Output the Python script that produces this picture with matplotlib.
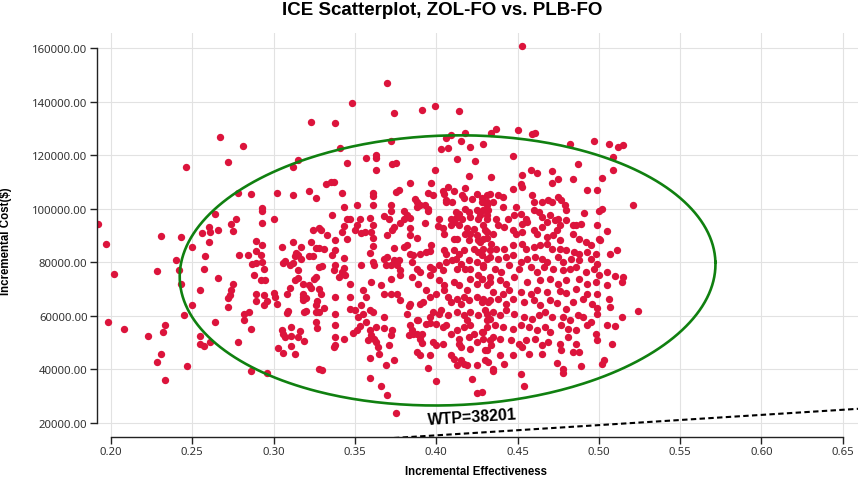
import numpy as np
import matplotlib.pyplot as plt

# (incremental effectiveness x1000, incremental cost /100)
pts_top = [(370,1469),(348,1393),(323,1322),(338,1321),(374,1358),(391,1367),(399,1383),(414,1363),
           (341,1227),(315,1180),(372,1251),(357,1190),(363,1200),(363,1190),(345,1171),(373,1168),
           (375,1170),(406,1265),(409,1275),(418,1283),(415,1254),(403,1221),(407,1226),(421,1229),
           (413,1186),(424,1176),(453,1607),(434,1281),(437,1298),(450,1292),(459,1278),(461,1281),
           (429,1241),(447,1195),(482,1242),(497,1251),(506,1240),(512,1231),(515,1237),(509,1192),
           (487,1168),(246,1157),(267,1267),(281,1233),(272,1175),(312,1155)]

pts_left_hi = [(278,1058),(286,1054),(302,1060),(312,1049),(293,1003),(293,992),(264,979),(277,962),
               (274,942),(293,945),(300,962),(260,932),(261,913),(256,910),(266,920),(275,915),
               (231,899),(243,895),(192,944),(332,1091),(322,1065),(326,1040),(324,919),(329,919),
               (333,900),(328,926)]

pts_left = [(197,868),(202,756),(198,578),(208,550),(223,525),(228,767),(231,458),(228,426),(233,360),
            (232,540),(233,565),(240,809),(242,771),(243,720),(245,601),(247,413),(250,856),(250,638),
            (255,697),(255,525),(255,495),(257,485),(261,500),(257,773),(258,823),(260,877),(264,578),
            (266,739),(272,633),(272,665),(273,678),(274,694),(275,720),(278,500),(279,825),(284,825),
            (282,585),(282,606),(285,614),(286,550),(286,393),(289,878),(293,865),(289,843),(292,828),
            (287,793),(289,796),(293,800),(288,750),(292,732),(295,732),(294,773),(289,680),(289,653),
            (294,641),(296,653),(294,676),(296,387),(300,686),(301,670),(302,643),(305,858),(306,798),
            (307,805),(308,680),(308,611),(309,616),(303,480),(306,462),(305,547),(306,533),(307,522),
            (310,704),(311,487),(311,525),(311,559),(313,455),(312,877),(314,835),(313,823),(315,828),
            (312,798),(310,791),(315,770),(317,811),(313,735),(315,741),(318,680),(318,670),(318,659),
            (320,665),(319,615),(320,618),(316,541),(315,519),(319,504),(317,858),(318,720),(322,713),
            (323,705),(325,736),(326,746),(322,823),(324,823),(323,874),(326,854),(328,854),(328,782),
            (330,786),(326,640),(327,653),(326,576),(327,553),(328,701),(329,681),(326,612),(328,614),
            (328,400),(330,396),(331,848),(331,627)]

pts_low = [(375,238)]

pts_core_ul = [(363,1143),(399,1145),(420,1122),(337,1099),(335,1099),(384,1095),(397,1095),(407,1080),
               (418,1078),(342,1057),(361,1058),(361,1047),(375,1062),(377,1068),(387,1037),(388,1024),
               (395,1059),(404,1064),(405,1056),(411,1067),(416,1052),(417,1041),(425,1056),(422,1034),
               (428,1024),(431,1049),(431,1024),(406,1031),(406,1024),(398,1049),(343,1006),(351,1015),
               (361,1015),(372,1015),(372,990),(380,990),(388,1006),(390,1012),(393,1012),(395,1000),
               (395,990),(410,1024),(412,987),(414,981),(418,1000),(420,987),(425,993),(429,993),
               (432,993),(412,965),(416,962),(421,968),(426,962),(431,975),(336,975),(345,962),
               (347,962),(353,960),(359,966),(368,972),(371,962),(382,975),(380,960),(384,965),
               (378,947),(393,946),(402,962),(401,935),(409,962),(411,950),(409,937),(414,937),
               (429,940),(419,927),(423,922),(431,912),(343,934),(351,937),(361,937),(374,931),
               (373,921),(384,927),(384,903),(388,890),(342,912),(350,919),(354,910),(356,912),
               (360,912),(361,890),(370,900),(404,927),(405,906),(411,888),(413,885),(418,906),
               (421,906),(420,884),(425,900),(426,881),(429,888),(431,890),(345,885),(338,884),
               (338,844),(336,825),(343,815),(359,835),(361,860),(374,854),(380,856),(382,863),
               (384,832),(386,828),(390,832),(394,838),(396,840),(397,865),(405,844),(406,832),
               (411,844),(414,832),(417,846),(423,850),(426,838),(429,850),(433,844),(338,788),
               (337,769),(343,778),(342,763),(344,753),(340,744),(354,788),(361,800),(362,788),
               (368,813),(370,819),(369,788),(374,807),(372,788),(377,807),(376,788),(378,769),
               (378,753),(385,800),(385,744),(388,776),(390,763),(396,782),(396,751),(398,776),
               (402,788),(404,769),(406,800),(410,807),(412,813),(415,794),(413,776),(418,776),
               (420,807),(421,776),(425,800),(429,788),(431,813),(426,751),(428,738),(433,744),
               (347,719),(360,726),(366,716),(372,738),(389,719),(402,732),(405,713),(411,726),
               (414,713),(421,738),(425,719),(431,713)]

pts_core_ur = [(434,1118),(453,1124),(458,1143),(462,1134),(471,1139),(475,1112),(471,1097),(484,1112),
               (502,1114),(509,1145),(493,1071),(499,1071),(447,1072),(452,1093),(453,1081),(433,1056),
               (438,1052),(441,1043),(428,1039),(429,1024),(435,1024),(431,1012),(441,1006),(449,1006),
               (459,1049),(460,1024),(465,1024),(469,1031),(471,1024),(475,1043),(477,1031),(479,1012),
               (480,993),(491,985),(500,990),(502,1000),(521,1015),(427,975),(431,962),(437,962),
               (438,937),(444,962),(448,975),(452,981),(455,962),(453,944),(456,950),(460,993),
               (463,987),(465,968),(470,975),(468,950),(465,931),(473,956),(475,962),(480,956),
               (476,937),(474,919),(484,937),(486,940),(489,944),(499,937),(500,888),(505,915),
               (511,844),(507,832),(430,919),(435,906),(442,931),(447,921),(449,906),(453,912),
               (460,919),(462,906),(468,894),(472,900),(476,881),(484,906),(488,888),(492,875),
               (495,863),(501,881),(427,875),(434,869),(437,850),(442,850),(447,863),(453,869),
               (455,850),(460,856),(464,863),(468,869),(471,850),(476,850),(480,844),(485,838),
               (488,832),(493,838),(498,832),(428,825),(433,819),(438,813),(443,819),(447,825),
               (452,800),(456,813),(461,819),(465,813),(468,800),(475,819),(478,800),(483,813),
               (488,807),(495,813),(499,794),(505,763),(510,748),(514,726),(429,782),(436,776),
               (440,763),(445,788),(451,776),(458,782),(462,763),(466,782),(472,776),(478,769),
               (482,776),(486,782),(492,763),(497,776),(500,751),(428,738),(433,726),(439,732),
               (443,719),(448,744),(456,726),(464,732),(470,738),(475,719),(480,732),(488,738),
               (493,719),(498,726),(505,713),(515,744)]

pts_core_ll = [(338,669),(347,669),(355,697),(357,669),(368,682),(372,682),(376,682),(378,660),
               (384,645),(383,635),(390,645),(392,651),(396,669),(394,694),(400,682),(405,694),
               (407,669),(409,651),(413,663),(415,645),(417,669),(419,694),(420,657),(425,669),
               (429,663),(432,651),(347,626),(350,620),(354,638),(355,607),(359,620),(361,613),
               (338,607),(352,595),(357,576),(368,595),(382,607),(388,585),(389,585),(396,595),
               (398,613),(402,607),(403,620),(407,601),(413,613),(417,601),(419,582),(421,613),
               (426,601),(431,607),(431,582),(338,564),(353,560),(351,545),(349,535),(359,547),
               (363,557),(368,554),(373,545),(372,526),(384,564),(385,545),(388,533),(391,533),
               (394,570),(396,573),(400,570),(404,557),(406,564),(413,545),(417,557),(421,564),
               (423,533),(428,539),(431,557),(338,520),(343,514),(337,483),(360,526),(362,514),
               (363,501),(364,483),(371,491),(383,526),(386,533),(390,514),(391,498),(398,501),
               (400,489),(404,495),(409,533),(414,514),(414,495),(415,483),(420,520),(421,477),
               (425,501),(429,514),(433,508),(338,489),(358,508),(365,458),(359,443),(369,414),
               (374,433),(388,464),(390,452),(396,452),(395,406),(409,452),(411,439),(413,414),
               (415,433),(417,421),(419,414),(422,363),(425,414),(430,433),(431,470),(359,368),
               (366,336),(370,305),(400,357),(425,311)]

pts_core_lr = [(435,688),(441,682),(445,694),(452,688),(458,682),(462,694),(468,688),(476,692),
               (480,684),(486,701),(493,682),(499,682),(506,663),(428,651),(433,657),(438,663),
               (443,645),(447,663),(454,651),(460,657),(464,638),(470,657),(474,647),(480,626),
               (484,651),(490,663),(496,645),(499,630),(507,632),(524,617),(430,620),(435,613),
               (433,588),(439,601),(443,620),(448,607),(454,595),(459,589),(463,601),(467,613),
               (471,595),(478,595),(482,582),(487,601),(490,595),(495,576),(499,607),(505,564),
               (510,560),(514,595),(429,539),(436,564),(441,557),(447,551),(452,564),(457,557),
               (462,545),(467,557),(470,539),(477,564),(481,551),(486,545),(493,564),(498,533),
               (435,520),(434,489),(439,514),(446,508),(451,495),(455,508),(461,514),(465,489),
               (469,501),(476,495),(481,520),(486,495),(488,464),(499,508),(508,493),(430,470),
               (439,452),(442,420),(447,452),(453,483),(457,458),(465,455),(477,470),(484,464),
               (432,427),(435,402),(435,393),(452,381),(474,423),(478,402),(478,386),(489,411),
               (503,433),(502,420),(454,336),(428,315)]

wtp = 38201
ell_center = (0.407, 76900)
ell_half = (0.1648, 50400)
ell_tilt = 1.8  # degrees on screen

x_ticks = [0.20, 0.25, 0.30, 0.35, 0.40, 0.45, 0.50, 0.55, 0.60, 0.65]
y_ticks = [20000, 40000, 60000, 80000, 100000, 120000, 140000, 160000]

all_pts = np.array(pts_top + pts_left_hi + pts_left + pts_low +
                   pts_core_ul + pts_core_ur + pts_core_ll + pts_core_lr, dtype=float)
eff = all_pts[:, 0] / 1000
cost = all_pts[:, 1] * 100

fig = plt.figure(figsize=(8.58, 4.81), dpi=100)
ax = fig.add_axes([97 / 858, 1 - 438 / 481, 761 / 858, 404 / 481])
xlim = (0.1914, 0.6594)
ylim = (14660, 165600)
ax.set_xlim(*xlim)
ax.set_ylim(*ylim)

ax.set_xticks(x_ticks)
ax.set_yticks(y_ticks)
ax.set_xticklabels([f"{v:.2f}" for v in x_ticks], family="Noto Sans", fontsize=8.2, color="#333333")
ax.set_yticklabels([f"{v:.2f}" for v in y_ticks], family="Noto Sans", fontsize=8.2, color="#333333")
ax.grid(True, color="#e2e2e2", linewidth=0.8)
ax.set_axisbelow(True)
ax.tick_params(length=4.8, width=1, color="#222222", pad=2)

for s in ["top", "right"]:
    ax.spines[s].set_visible(False)
ax.spines["left"].set_bounds(y_ticks[0], y_ticks[-1])
ax.spines["bottom"].set_bounds(x_ticks[0], x_ticks[-1])
for s in ["left", "bottom"]:
    ax.spines[s].set_color("#222222")
    ax.spines[s].set_linewidth(1)

ax.scatter(eff, cost, s=28, color="#dc143c", linewidths=0, zorder=2)

# confidence ellipse, tilted slightly on screen
fw, fh = fig.get_size_inches()
pos = ax.get_position()
sx = pos.width * fw / (xlim[1] - xlim[0])
sy = pos.height * fh / (ylim[1] - ylim[0])
a, b = ell_half[0] * sx, ell_half[1] * sy
th = np.radians(ell_tilt)
t = np.linspace(0, 2 * np.pi, 400)
ex = a * np.cos(th) * np.cos(t) - b * np.sin(th) * np.sin(t)
ey = a * np.sin(th) * np.cos(t) + b * np.cos(th) * np.sin(t)
ax.plot(ell_center[0] + ex / sx, ell_center[1] + ey / sy, color="#108010", lw=1.9, zorder=3)

# willingness-to-pay line
wx = np.array(xlim)
ax.plot(wx, wtp * wx, color="black", lw=1.5, dashes=(2.6, 1.6), zorder=3)
p0 = ax.transData.transform((wx[0], wtp * wx[0]))
p1 = ax.transData.transform((wx[1], wtp * wx[1]))
ang = np.degrees(np.arctan2(p1[1] - p0[1], p1[0] - p0[0]))
ax.text(0.395, 19700, f"WTP={wtp}", fontsize=11.5, fontweight="bold", family="Liberation Sans",
        rotation=ang, rotation_mode="anchor", ha="left", va="baseline", zorder=4)

ax.set_xlabel("Incremental Effectiveness", fontsize=8.3, fontweight="bold", family="Liberation Sans")
ax.set_ylabel("Incremental Cost($)", fontsize=8.3, fontweight="bold", family="Liberation Sans")
ax.xaxis.set_label_coords(0.498, -0.069)
ax.yaxis.set_label_coords(-0.112, 0.488)

fig.text(442 / 858, 1 - 15 / 481, "ICE Scatterplot, ZOL-FO vs. PLB-FO", fontsize=13.5,
         fontweight="bold", family="Liberation Sans", ha="center", va="baseline")

fig.savefig("out.png", dpi=100)
